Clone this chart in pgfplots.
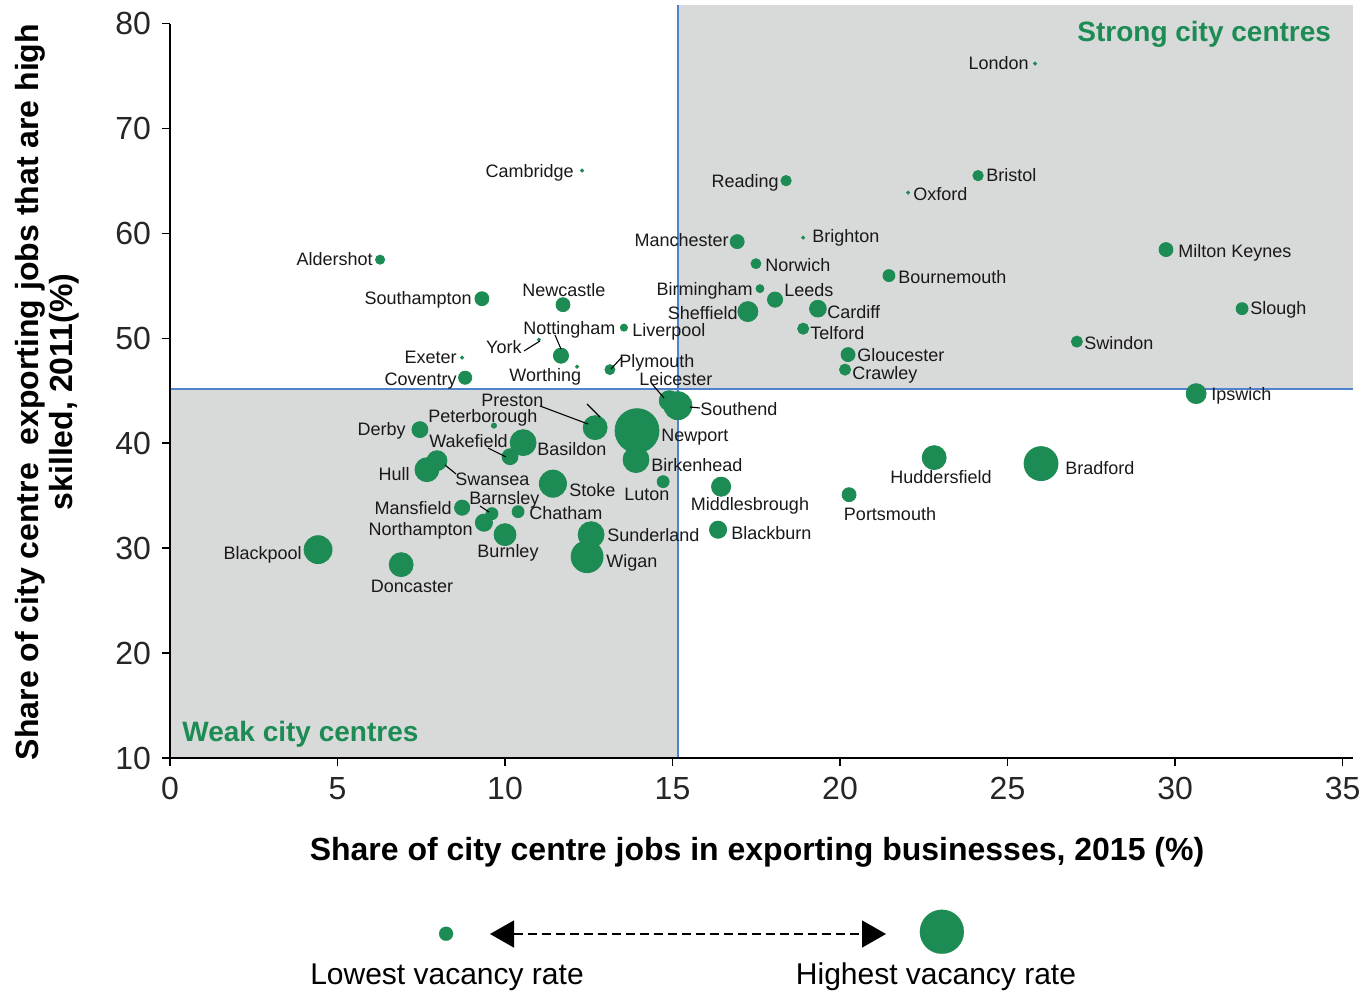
\documentclass[border=0pt]{standalone}
\usepackage{pgfplots}
\pgfplotsset{compat=1.18}
\usepackage{pgfplotstable}
\usepackage{fontspec}
\setmainfont{Liberation Sans}
\usetikzlibrary{arrows.meta}
\definecolor{cgreen}{RGB}{29,140,84}
\definecolor{cgray}{RGB}{216,217,217}
\definecolor{cblue}{RGB}{80,130,205}

% x = exporting jobs share 2015 (%), y = high skilled share 2011 (%), r = bubble radius (pt)
\pgfplotstableread{
x y r
25.82 76.19 0.8
12.30 65.99 0.8
18.39 65.03 2.6
24.12 65.51 2.6
22.03 63.89 0.8
16.93 59.22 3.5
18.90 59.60 0.8
29.73 58.46 3.5
6.27 57.50 2.3
17.49 57.12 2.5
21.46 55.98 3.0
17.61 54.74 2.0
18.06 53.69 3.8
9.31 53.78 3.5
11.73 53.21 3.5
17.25 52.55 5.0
19.34 52.83 4.2
32.00 52.83 3.0
13.55 51.02 1.8
18.90 50.92 2.8
27.07 49.69 2.8
11.01 49.88 0.8
11.67 48.35 3.8
20.24 48.45 3.5
8.72 48.16 0.8
12.15 47.30 0.8
13.13 47.02 2.5
20.15 47.02 2.8
8.81 46.25 3.3
30.63 44.73 5.0
14.90 44.06 5.0
15.16 43.58 7.0
12.69 41.49 6.0
9.67 41.68 1.3
7.46 41.30 4.0
13.94 41.20 11.0
13.91 38.44 6.5
10.15 38.72 4.0
10.54 40.06 6.5
7.67 37.48 6.0
7.97 38.34 5.0
11.43 36.15 6.8
14.72 36.34 3.0
16.45 35.86 4.8
16.36 31.76 4.3
20.27 35.10 3.5
22.81 38.63 6.0
26.00 38.06 8.5
8.72 33.86 3.8
9.61 33.29 3.0
10.39 33.48 3.0
9.37 32.43 4.3
10.00 31.29 5.5
12.57 31.29 6.5
12.45 29.19 8.0
4.42 29.86 7.0
6.90 28.43 6.0
}\cities

\begin{document}
\begin{tikzpicture}
\useasboundingbox (-85pt,-117.5pt) rectangle (598pt,379pt);
\begin{axis}[
  at={(0pt,0pt)}, anchor=south west,
  scale only axis, width=591.3pt, height=367.2pt,
  xmin=0, xmax=35.3, ymin=10, ymax=80,
  clip=false,
  axis lines*=left,
  axis line style={black, line width=0.8pt, -},
  axis on top,
  xtick={0,5,...,35}, ytick={10,20,...,80},
  tick align=outside, major tick length=4pt,
  tick style={black, line width=0.8pt},
  /pgf/number format/assume math mode=true,
  ticklabel style={font=\fontsize{16}{16}\selectfont, text=black!85},
  xticklabel style={yshift=-2pt},
  yticklabel style={xshift=-2pt},
]
\fill[cgray] (axis cs:15.15,45.2) rectangle (axis cs:35.3,81.8);
\fill[cgray] (axis cs:0,10) rectangle (axis cs:15.15,45.2);
\draw[cblue, line width=1pt] (axis cs:15.15,10) -- (axis cs:15.15,81.8);
\draw[cblue, line width=1pt] (axis cs:0,45.2) -- (axis cs:35.3,45.2);

\addplot[scatter, only marks, mark=*,
  scatter/use mapped color={draw=cgreen, fill=cgreen},
  visualization depends on={\thisrow{r} \as \bubblesize},
  scatter/@pre marker code/.append style={/tikz/mark size=\bubblesize, /tikz/line width=0.1pt}]
  table[x=x, y=y] {\cities};

% size legend
\addplot[only marks, mark=*, mark size=3.5pt, mark options={draw=cgreen, line width=0.1pt, fill=cgreen}]
  coordinates {(8.24,-6.75)};
\addplot[only marks, mark=*, mark size=11pt, mark options={draw=cgreen, line width=0.1pt, fill=cgreen}]
  coordinates {(23.04,-6.56)};
\end{axis}

\begin{scope}[x=0.5pt, y=-0.5pt, shift={(-85pt,379pt)}]
\tikzset{lab/.style={font=\fontsize{9}{10}\selectfont, inner sep=0pt, text=black!90},
         ll/.style={black, line width=0.55pt}}
% labels
\node[lab, anchor=mid east] at (1029,64) {London};
\node[lab, anchor=mid east] at (574,172) {Cambridge};
\node[lab, anchor=mid east] at (779,182) {Reading};
\node[lab, anchor=mid west] at (986,176) {Bristol};
\node[lab, anchor=mid west] at (913,195) {Oxford};
\node[lab, anchor=mid east] at (729,241) {Manchester};
\node[lab, anchor=mid west] at (812,237) {Brighton};
\node[lab, anchor=mid west] at (1178,252) {Milton Keynes};
\node[lab, anchor=mid east] at (373,260) {Aldershot};
\node[lab, anchor=mid west] at (765,266) {Norwich};
\node[lab, anchor=mid west] at (898,278) {Bournemouth};
\node[lab, anchor=mid east] at (753,290) {Birmingham};
\node[lab, anchor=mid west] at (784,291) {Leeds};
\node[lab, anchor=mid east] at (472,299) {Southampton};
\node[lab, anchor=mid] at (564,291) {Newcastle};
\node[lab, anchor=mid east] at (738,314) {Sheffield};
\node[lab, anchor=mid west] at (827,313) {Cardiff};
\node[lab, anchor=mid west] at (1250,309) {Slough};
\node[lab, anchor=mid west] at (632,331) {Liverpool};
\node[lab, anchor=mid west] at (810,334) {Telford};
\node[lab, anchor=mid west] at (1084,344) {Swindon};
\node[lab, anchor=mid east] at (522,348) {York};
\node[lab, anchor=mid west] at (523,329) {Nottingham};
\node[lab, anchor=mid west] at (857,356) {Gloucester};
\node[lab, anchor=mid east] at (457,358) {Exeter};
\node[lab, anchor=mid west] at (509,376) {Worthing};
\node[lab, anchor=mid west] at (619,362) {Plymouth};
\node[lab, anchor=mid west] at (852,374) {Crawley};
\node[lab, anchor=mid east] at (457,380) {Coventry};
\node[lab, anchor=mid west] at (639,380) {Leicester};
\node[lab, anchor=mid west] at (700,410) {Southend};
\node[lab, anchor=mid west] at (1211,395) {Ipswich};
\node[lab, anchor=mid west] at (481,401) {Preston};
\node[lab, anchor=mid west] at (428,417) {Peterborough};
\node[lab, anchor=mid east] at (406,430) {Derby};
\node[lab, anchor=mid west] at (429,442) {Wakefield};
\node[lab, anchor=mid west] at (537,450) {Basildon};
\node[lab, anchor=mid west] at (661,436) {Newport};
\node[lab, anchor=mid west] at (651,466) {Birkenhead};
\node[lab, anchor=mid east] at (410,475) {Hull};
\node[lab, anchor=mid west] at (455,480) {Swansea};
\node[lab, anchor=mid west] at (569,491) {Stoke};
\node[lab, anchor=mid west] at (624,495) {Luton};
\node[lab, anchor=mid] at (941,478) {Huddersfield};
\node[lab, anchor=mid west] at (1065,469) {Bradford};
\node[lab, anchor=mid] at (750,505) {Middlesbrough};
\node[lab, anchor=mid] at (890,515) {Portsmouth};
\node[lab, anchor=mid east] at (452,509) {Mansfield};
\node[lab, anchor=mid west] at (469,499) {Barnsley};
\node[lab, anchor=mid west] at (529,514) {Chatham};
\node[lab, anchor=mid east] at (473,530) {Northampton};
\node[lab, anchor=mid west] at (607,536) {Sunderland};
\node[lab, anchor=mid west] at (731,534) {Blackburn};
\node[lab, anchor=mid] at (508,552) {Burnley};
\node[lab, anchor=mid east] at (302,554) {Blackpool};
\node[lab, anchor=mid west] at (606,562) {Wigan};
\node[lab, anchor=mid] at (412,587) {Doncaster};
% leader lines
\draw[ll] (524,351) -- (540,341);
\draw[ll] (555,335) -- (561,349);
\draw[ll] (611,369) -- (622,357);
\draw[ll] (652,384) -- (664,398);
\draw[ll] (690,407) -- (700,408);
\draw[ll] (540,406) -- (588,424);
\draw[ll] (587,404) -- (600,417);
\draw[ll] (488,448) -- (506,457);
\draw[ll] (445,465) -- (456,474);
\draw[ll] (480,506) -- (489,512);
% quadrant titles
\node[anchor=mid west, inner sep=0pt, text=cgreen, font=\bfseries\fontsize{14}{14}\selectfont] at (1077,36) {Strong city centres};
\node[anchor=mid west, inner sep=0pt, text=cgreen, font=\bfseries\fontsize{14}{14}\selectfont] at (182,736) {Weak city centres};
% axis titles
\node[anchor=mid, inner sep=0pt, font=\bfseries\fontsize{16}{16}\selectfont] at (757,855) {Share of city centre jobs in exporting businesses, 2015 (\%)};
\node[rotate=90, align=center, inner sep=0pt, font=\bfseries\fontsize{16}{17}\selectfont] at (47,392) {Share of city centre~ exporting jobs that are high\\skilled, 2011(\%)};
% size legend
\draw[black, line width=0.7pt, dash pattern=on 4.5pt off 2.5pt, {Triangle[length=12pt,width=13.5pt]}-{Triangle[length=12pt,width=13.5pt]}] (490,934) -- (886,934);
\node[anchor=mid, inner sep=0pt, font=\fontsize{15}{15}\selectfont] at (447,979) {Lowest vacancy rate};
\node[anchor=mid, inner sep=0pt, font=\fontsize{15}{15}\selectfont] at (936,979) {Highest vacancy rate};
\end{scope}
\end{tikzpicture}
\end{document}
